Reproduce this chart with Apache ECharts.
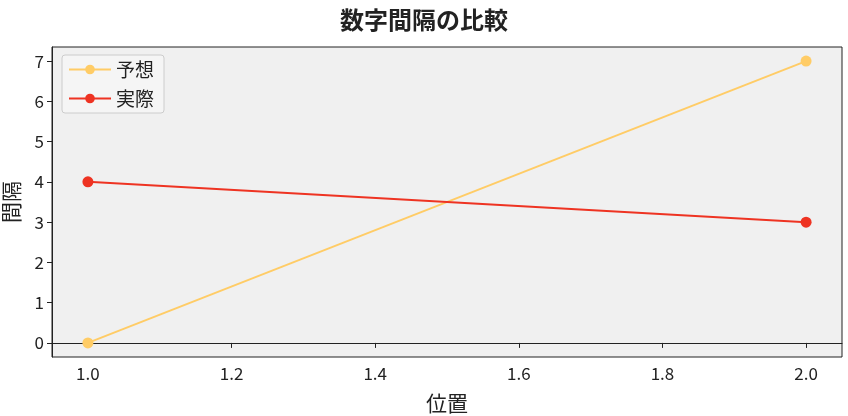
<!DOCTYPE html>
<html><head><meta charset="utf-8">
<script src="https://cdn.jsdelivr.net/npm/echarts@6/dist/echarts.min.js"></script>
<style>html,body{margin:0;padding:0;background:#fff}#c{width:848px;height:416px}</style>
</head><body><div id="c"></div>
<script>
const positions = [1.0, 2.0];
const predicted = [0, 7];
const actual = [4, 3];
const xTicks = [1.0, 1.2, 1.4, 1.6, 1.8, 2.0];
const yTicks = [0, 1, 2, 3, 4, 5, 6, 7];
const font = '"Noto Sans CJK JP", "Noto Sans", sans-serif';
const chart = echarts.init(document.getElementById('c'));
const mk = (name, vals, color) => ({
  name, type: 'line', data: positions.map((p, i) => [p, vals[i]]),
  symbol: 'circle', symbolSize: 11, itemStyle: {color},
  lineStyle: {color, width: 2}, z: name === '実際' ? 3 : 2
});
chart.setOption({
  textStyle: {fontFamily: font},
  title: {text: '数字間隔の比較', left: 'center', top: 3,
    textStyle: {fontSize: 24, fontWeight: 'bold', color: '#222', fontFamily: font}},
  legend: {left: 62, top: 55, orient: 'vertical', itemWidth: 42, itemHeight: 12, itemGap: 10,
    backgroundColor: 'rgba(245,245,245,0.9)', borderColor: '#ccc', borderWidth: 1, borderRadius: 3,
    padding: [5, 10, 5, 6], textStyle: {fontSize: 19, color: '#222', fontFamily: font}},
  grid: {left: 52, right: 6, top: 47, bottom: 59, outerBoundsMode: 'none', containLabel: false,
    backgroundColor: '#f0f0f0', show: true, borderColor: '#222', borderWidth: 1},
  xAxis: {type: 'value', min: 0.95, max: 2.05, name: '位置', nameLocation: 'middle', nameGap: 36,
    nameTextStyle: {fontSize: 21, color: '#222', fontFamily: font},
    axisLine: {show: true, lineStyle: {color: '#222'}},
    axisTick: {show: true, inside: false, customValues: xTicks, lineStyle: {color: '#222'}},
    axisLabel: {customValues: xTicks, formatter: v => v.toFixed(1), fontSize: 17, color: '#222'},
    splitLine: {show: false}},
  yAxis: {type: 'value', min: -0.35, max: 7.35, name: '間隔', nameLocation: 'middle', nameGap: 30,
    nameTextStyle: {fontSize: 21, color: '#222', fontFamily: font},
    axisLine: {show: true, lineStyle: {color: '#222'}},
    axisTick: {show: true, inside: false, customValues: yTicks, lineStyle: {color: '#222'}},
    axisLabel: {customValues: yTicks, fontSize: 17, color: '#222'},
    splitLine: {show: false}},
  series: [mk('予想', predicted, '#ffcc66'), mk('実際', actual, '#ee3322')]
});
</script></body></html>
